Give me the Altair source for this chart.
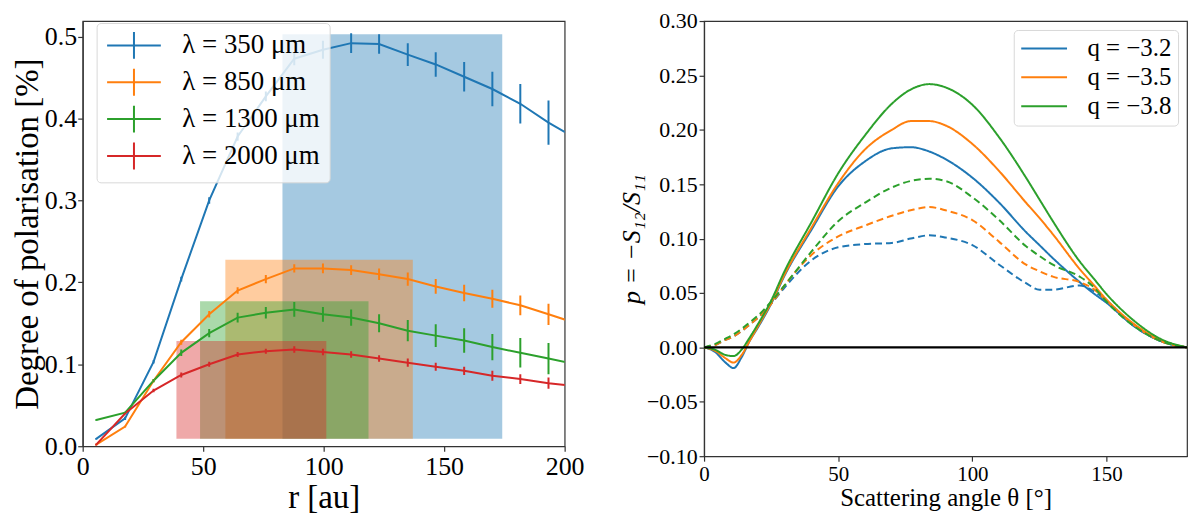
import altair as alt
import pandas as pd

# ---- left panel: degree of polarisation vs radius ----
r_au = [5.6, 17.6, 29.4, 40.9, 52.5, 64.3, 76.0, 87.8, 99.7, 111.4, 123.0,
        134.9, 146.5, 158.3, 170.0, 181.6, 193.3, 205.0]

pol_350 = [0.009, 0.034, 0.103, 0.204, 0.300, 0.378, 0.427, 0.473, 0.484, 0.492,
           0.491, 0.478, 0.466, 0.451, 0.436, 0.418, 0.395, 0.375]
err_350 = [0.001, 0.002, 0.002, 0.003, 0.004, 0.005, 0.006, 0.008, 0.011, 0.012,
           0.012, 0.014, 0.015, 0.018, 0.021, 0.024, 0.027, 0.030]
pol_850 = [0.002, 0.024, 0.080, 0.127, 0.161, 0.190, 0.204, 0.217, 0.217, 0.215,
           0.210, 0.204, 0.195, 0.187, 0.180, 0.172, 0.161, 0.150]
err_850 = [0.001, 0.001, 0.002, 0.003, 0.004, 0.004, 0.005, 0.005, 0.006, 0.006,
           0.007, 0.008, 0.009, 0.010, 0.011, 0.012, 0.013, 0.014]
pol_1300 = [0.032, 0.041, 0.080, 0.114, 0.138, 0.157, 0.163, 0.167, 0.161, 0.157,
            0.150, 0.141, 0.135, 0.129, 0.121, 0.114, 0.107, 0.100]
err_1300 = [0.001, 0.001, 0.002, 0.004, 0.005, 0.006, 0.007, 0.009, 0.009, 0.010,
            0.011, 0.013, 0.014, 0.015, 0.016, 0.018, 0.019, 0.020]
pol_2000 = [0.002, 0.040, 0.068, 0.087, 0.100, 0.112, 0.116, 0.118, 0.115, 0.112,
            0.107, 0.102, 0.097, 0.092, 0.086, 0.082, 0.077, 0.073]
err_2000 = [0.001, 0.001, 0.002, 0.003, 0.003, 0.003, 0.003, 0.004, 0.004, 0.004,
            0.004, 0.005, 0.005, 0.005, 0.006, 0.006, 0.007, 0.007]

wl_labels = ["λ = 350 μm", "λ = 850 μm", "λ = 1300 μm", "λ = 2000 μm"]

box_r0 = [82.9, 59.2, 48.7, 38.9]
box_r1 = [174.1, 137.0, 118.6, 101.1]
box_p0 = [0.009, 0.009, 0.009, 0.009]
box_p1 = [0.503, 0.2275, 0.177, 0.1285]

# ---- right panel: p = -S12/S11 vs scattering angle ----
theta = [0, 4, 8, 11, 14, 17, 20, 25, 30, 40, 50, 60, 70, 77, 84, 90, 100,
         110, 120, 125, 130, 140, 145, 150, 160, 170, 180]

solid_32 = [0, -0.004, -0.014, -0.019, -0.009, 0.006, 0.018, 0.040, 0.066, 0.108,
            0.148, 0.171, 0.183, 0.184, 0.180, 0.173, 0.156, 0.133, 0.106, 0.094,
            0.082, 0.060, 0.050, 0.041, 0.020, 0.006, 0]
solid_35 = [0, -0.003, -0.010, -0.014, -0.007, 0.006, 0.019, 0.041, 0.067, 0.110,
            0.151, 0.182, 0.200, 0.208, 0.208, 0.204, 0.187, 0.162, 0.133, 0.119,
            0.104, 0.072, 0.058, 0.044, 0.022, 0.007, 0]
solid_38 = [0, -0.002, -0.007, -0.008, -0.002, 0.009, 0.021, 0.043, 0.070, 0.115,
            0.160, 0.195, 0.224, 0.237, 0.242, 0.239, 0.223, 0.193, 0.156, 0.136,
            0.116, 0.079, 0.064, 0.049, 0.025, 0.008, 0]
dash_32 = [0, 0.002, 0.007, 0.010, 0.015, 0.021, 0.027, 0.040, 0.055, 0.080,
           0.092, 0.095, 0.096, 0.100, 0.103, 0.101, 0.094, 0.076, 0.059, 0.053,
           0.053, 0.057, 0.052, 0.043, 0.020, 0.006, 0]
dash_35 = [0, 0.002, 0.007, 0.010, 0.015, 0.021, 0.027, 0.040, 0.057, 0.085,
           0.102, 0.112, 0.121, 0.126, 0.129, 0.126, 0.117, 0.097, 0.076, 0.070,
           0.065, 0.060, 0.054, 0.043, 0.021, 0.006, 0]
dash_38 = [0, 0.003, 0.008, 0.012, 0.017, 0.023, 0.029, 0.042, 0.057, 0.088,
           0.116, 0.133, 0.147, 0.153, 0.155, 0.153, 0.138, 0.117, 0.093, 0.084,
           0.076, 0.065, 0.056, 0.042, 0.020, 0.006, 0]

q_labels = ["q = −3.2", "q = −3.5", "q = −3.8"]

tab = ["#1f77b4", "#ff7f0e", "#2ca02c", "#d62728"]
FONT = "Liberation Serif"

# ---- tables ----
rows = []
for lab, pol, err in zip(wl_labels, [pol_350, pol_850, pol_1300, pol_2000],
                         [err_350, err_850, err_1300, err_2000]):
    for r, v, e in zip(r_au, pol, err):
        rows.append({"r": r, "p": v, "lo": v - e, "hi": v + e, "wl": lab})
pol_df = pd.DataFrame(rows)

box_df = pd.DataFrame({"r0": box_r0, "r1": box_r1, "p0": box_p0, "p1": box_p1,
                       "wl": wl_labels})

rows = []
for lab, s, d in zip(q_labels, [solid_32, solid_35, solid_38], [dash_32, dash_35, dash_38]):
    for t, vs, vd in zip(theta, s, d):
        rows.append({"theta": t, "p": vs, "q": lab, "kind": "solid"})
        rows.append({"theta": t, "p": vd, "q": lab, "kind": "dashed"})
scat_df = pd.DataFrame(rows)

# ---- left chart ----
axL_x = alt.Axis(values=[0, 50, 100, 150, 200], title="r [au]", labelFontSize=26,
                 titleFontSize=33, labelPadding=2, titlePadding=3, labelFlush=False)
axL_y = alt.Axis(values=[0, 0.1, 0.2, 0.3, 0.4, 0.5], format=".1f",
                 title="Degree of polarisation [%]", labelFontSize=26,
                 titleFontSize=33, labelPadding=1, titlePadding=0)
sxL = alt.Scale(domain=[0, 200], nice=False, zero=False)
syL = alt.Scale(domain=[0, 0.519], nice=False)
cL = alt.Scale(domain=wl_labels, range=tab)

boxes = alt.Chart(box_df).mark_rect(opacity=0.4).encode(
    x=alt.X("r0:Q", scale=sxL, axis=axL_x),
    x2="r1",
    y=alt.Y("p0:Q", scale=syL, axis=axL_y),
    y2="p1",
    fill=alt.Fill("wl:N", scale=cL, legend=None),
)

# errorbar-style legend symbol: long line with a short vertical tick
lines = alt.Chart(pol_df).mark_line(clip=True, strokeWidth=2).encode(
    x=alt.X("r:Q", scale=sxL, axis=axL_x),
    y=alt.Y("p:Q", scale=syL, axis=axL_y),
    color=alt.Color("wl:N", scale=cL, legend=alt.Legend(
        title=None, orient="none", legendX=14, legendY=2, padding=9,
        fillColor="rgba(255,255,255,0.8)", strokeColor="#d8d8d8", cornerRadius=4,
        labelFont=FONT, labelFontSize=27, symbolType="M-4,0H4M0,-2V2",
        symbolSize=182, symbolStrokeWidth=2, symbolOffset=15, labelOffset=35,
        rowPadding=2,
    )),
)

bars = alt.Chart(pol_df).mark_rule(clip=True, strokeWidth=2).encode(
    x=alt.X("r:Q", scale=sxL, axis=axL_x),
    y=alt.Y("lo:Q", scale=syL, axis=axL_y),
    y2="hi",
    stroke=alt.Stroke("wl:N", scale=cL, legend=None),
)

left = alt.layer(boxes, lines, bars).properties(width=484, height=427)

# ---- right chart ----
axR_x = alt.Axis(values=[0, 50, 100, 150], title="Scattering angle θ [°]",
                 labelFontSize=21, titleFontSize=25, labelPadding=2, titlePadding=2,
                 labelFlush=False)
axR_y = alt.Axis(values=[-0.1, -0.05, 0, 0.05, 0.1, 0.15, 0.2, 0.25, 0.3], format=".2f",
                 title="p = −S₁₂/S₁₁", titleFontStyle="italic", labelFontSize=22,
                 titleFontSize=26, labelPadding=2, titlePadding=2)
sxR = alt.Scale(domain=[0, 180], nice=False)
syR = alt.Scale(domain=[-0.1, 0.3], nice=False)

curves = alt.Chart(scat_df).mark_line(strokeWidth=2, interpolate="monotone").encode(
    x=alt.X("theta:Q", scale=sxR, axis=axR_x),
    y=alt.Y("p:Q", scale=syR, axis=axR_y),
    color=alt.Color("q:N", scale=alt.Scale(domain=q_labels, range=tab[:3]),
                    legend=alt.Legend(
                        title=None, orient="top-right", offset=9, padding=6,
                        fillColor="rgba(255,255,255,0.8)", strokeColor="#d8d8d8",
                        cornerRadius=4, labelFont=FONT, labelFontSize=25,
                        symbolType="M-3,0H3", symbolSize=235, symbolStrokeWidth=2,
                        symbolOffset=12, labelOffset=31, rowPadding=3)),
    strokeDash=alt.StrokeDash("kind:N", scale=alt.Scale(domain=["solid", "dashed"],
                              range=[[1, 0], [7, 4]]), legend=None),
)

zero = alt.Chart(pd.DataFrame({"y": [0]})).mark_rule(color="black", strokeWidth=2.2).encode(
    y=alt.Y("y:Q", scale=syR, axis=axR_y)
)

right = alt.layer(curves, zero).properties(width=485, height=437)

chart = alt.hconcat(left, right, spacing=32).resolve_scale(
    color="independent"
).resolve_legend(color="independent").properties(
    padding={"left": 2, "top": 0, "right": 0, "bottom": 0}
).configure_view(
    stroke="#333333", strokeWidth=1.2
).configure_axis(
    grid=False, labelFont=FONT, titleFont=FONT, labelColor="black", titleColor="black",
    titleFontWeight="normal", domainColor="#333333", tickColor="#333333", tickSize=5,
    tickWidth=1.2, domainWidth=1.2
)

chart.save("out.html", embed_options={"renderer": "svg", "actions": False})
